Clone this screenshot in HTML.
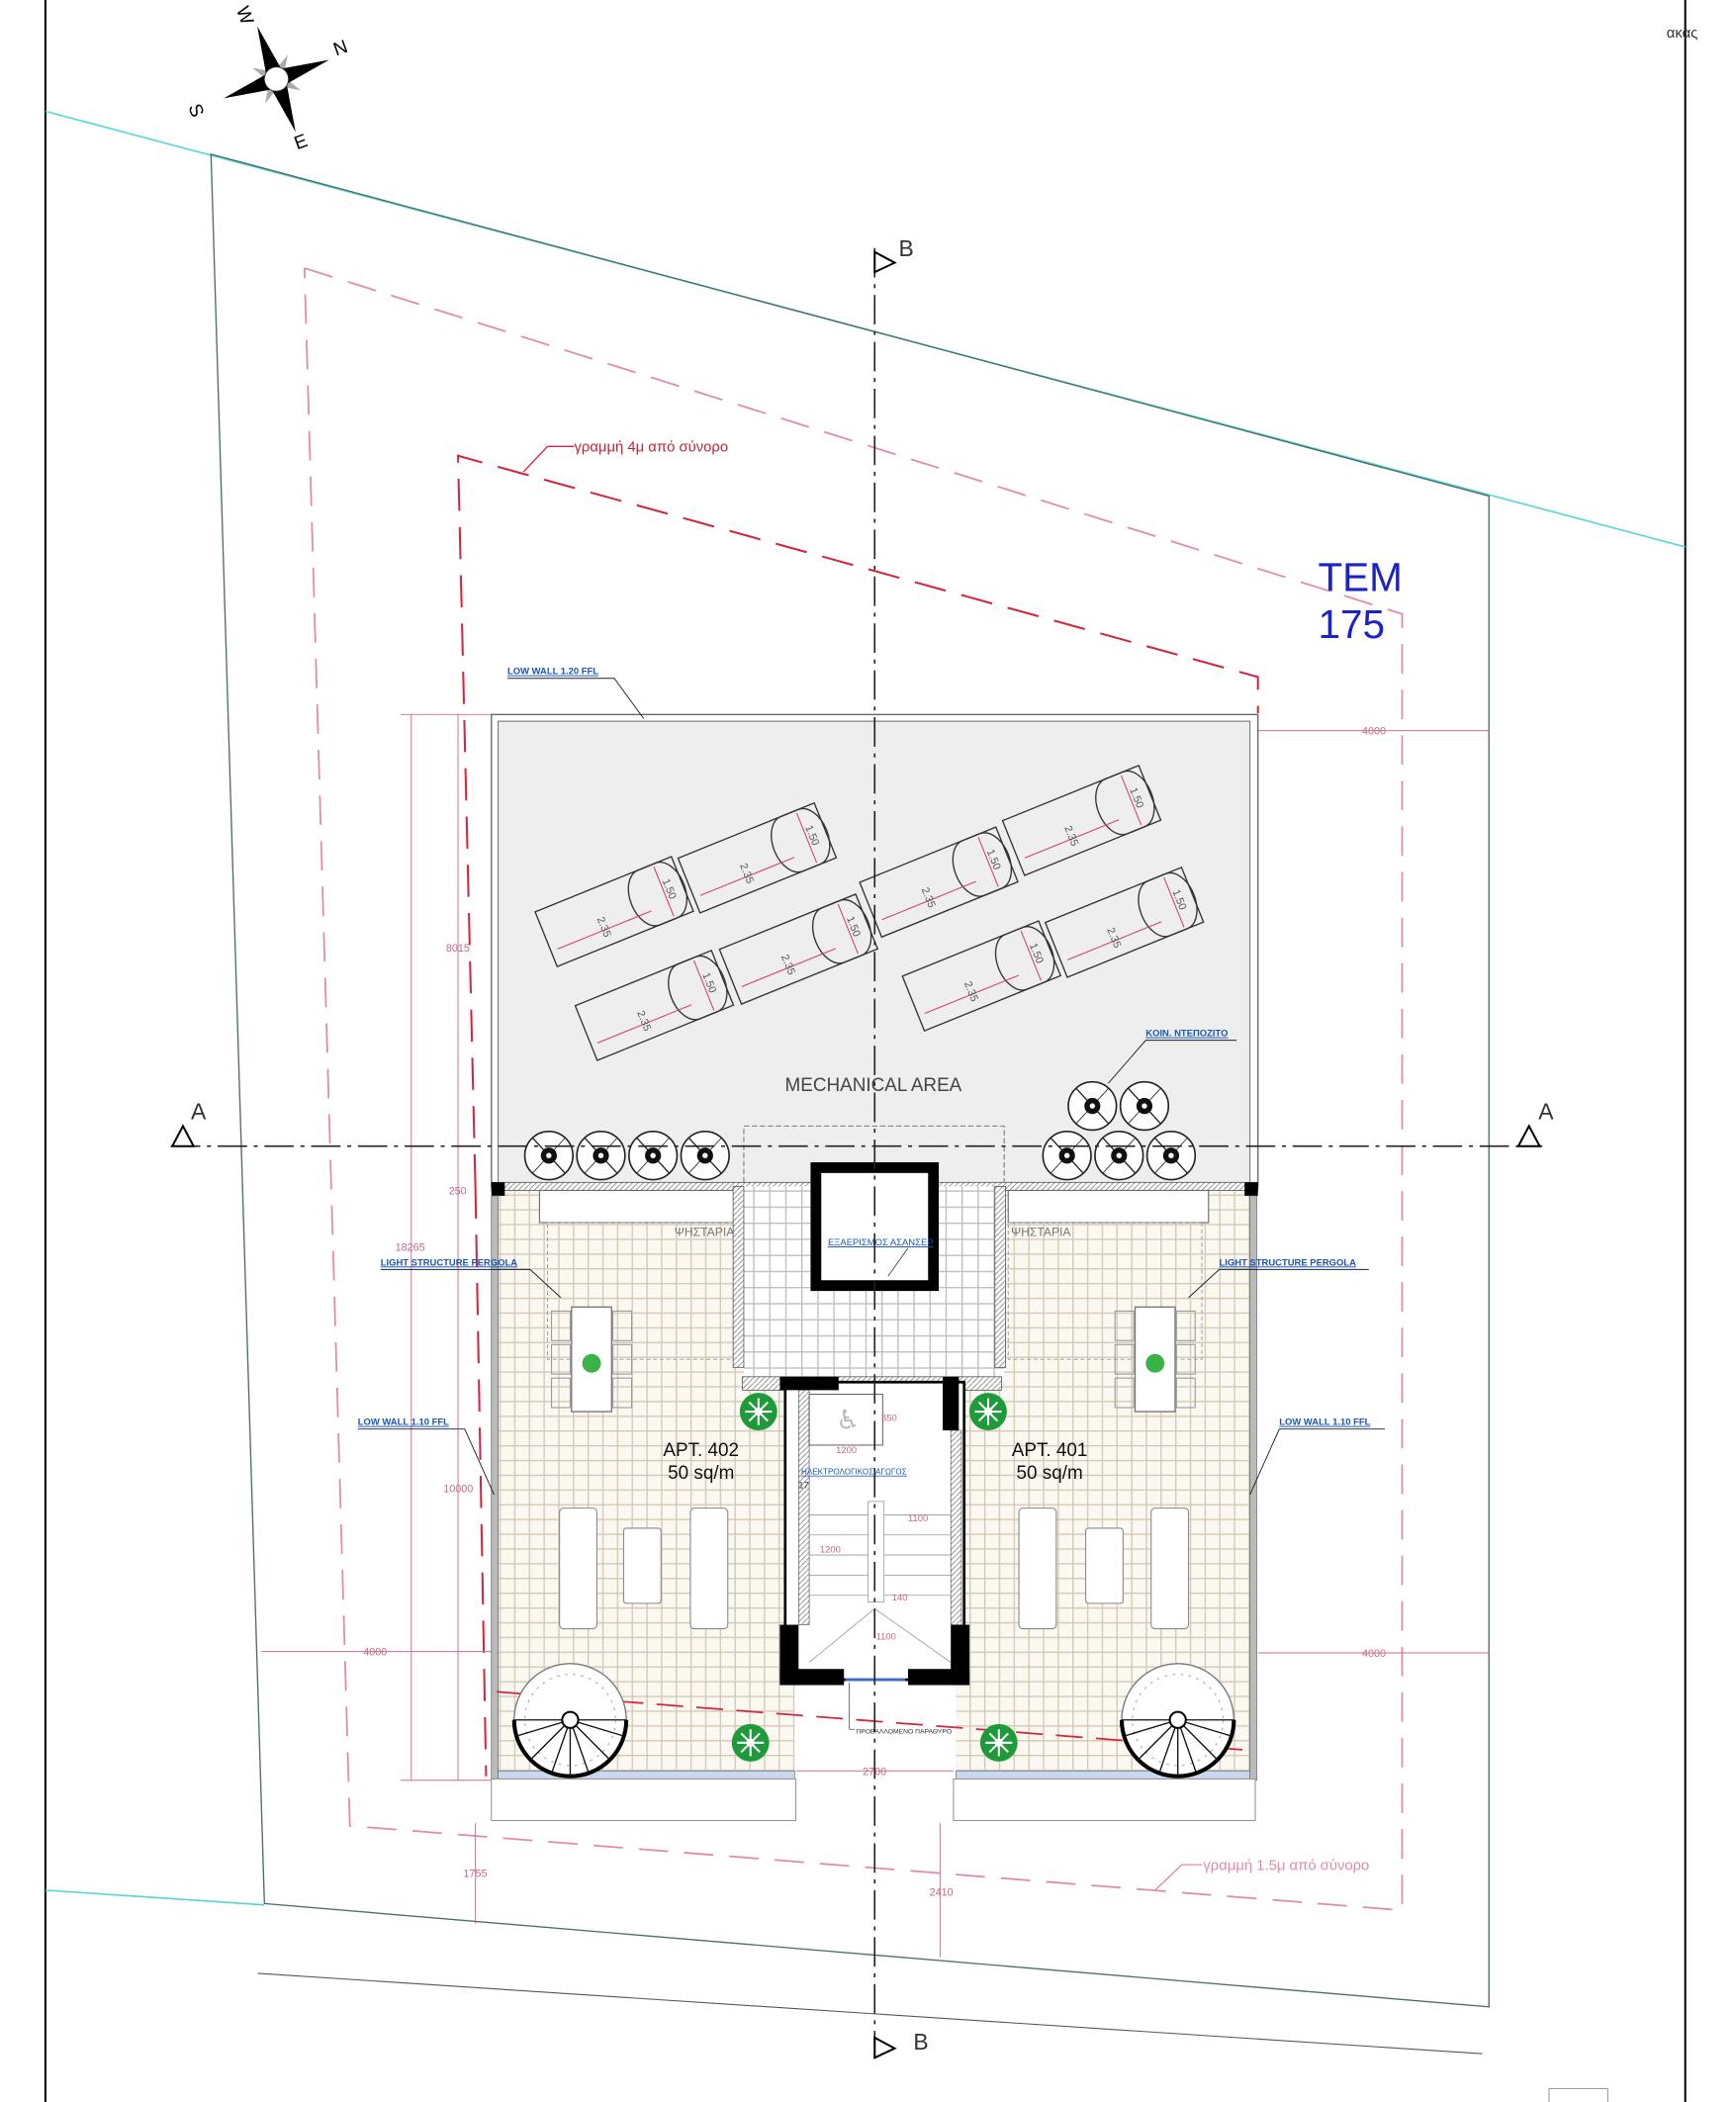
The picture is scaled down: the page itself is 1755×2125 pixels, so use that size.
<!DOCTYPE html>
<html><head><meta charset="utf-8"><style>
html,body{margin:0;padding:0;background:#fff;}
svg{display:block;}
text{font-family:"Liberation Sans","DejaVu Sans",sans-serif;}
</style></head><body>
<svg width="1755" height="2125" viewBox="0 0 1300 1568" preserveAspectRatio="none" xmlns="http://www.w3.org/2000/svg">
<defs>
<pattern id="tile" width="11" height="11" patternUnits="userSpaceOnUse">
<rect width="11" height="11" fill="#fbf8f1"/>
<path d="M0 0.5H11M0.5 0V11" stroke="#d3c8b6" stroke-width="1"/>
</pattern>
<pattern id="tile2" width="12" height="12" patternUnits="userSpaceOnUse">
<rect width="12" height="12" fill="#fff"/>
<path d="M0 0.5H12M0.5 0V12" stroke="#bdbdbd" stroke-width="1"/>
</pattern>
<pattern id="hatch" width="4" height="4" patternUnits="userSpaceOnUse">
<rect width="4" height="4" fill="#fff"/><path d="M0 4L4 0" stroke="#888" stroke-width="0.7"/>
</pattern>
<g id="bed">
<rect x="-55" y="-22" width="110" height="44" fill="none" stroke="#333" stroke-width="1"/>
<path d="M28 -22h14a14 22 0 0 1 0 44h-14a14 22 0 0 1 0-44z" fill="none" stroke="#333" stroke-width="1"/>
<line x1="-50" y1="10" x2="26" y2="10" stroke="#d0417a" stroke-width="0.8"/>
<line x1="40" y1="-20" x2="40" y2="20" stroke="#d0417a" stroke-width="0.8"/>
<text x="-10" y="4" font-size="8" fill="#555" transform="rotate(90 -10 0)">2.35</text>
<text x="42" y="-8" font-size="8" fill="#555" transform="rotate(90 42 -8)">1.50</text>
</g>
<g id="tank">
<circle r="18" fill="#fff" stroke="#222" stroke-width="1.2"/>
<line x1="-12" y1="-13" x2="12" y2="13" stroke="#222"/>
<line x1="-12" y1="13" x2="12" y2="-13" stroke="#222" stroke-width="0.6"/>
<circle r="6" fill="#111"/><circle r="2" fill="#fff"/>
</g>
<g id="plant">
<circle r="14" fill="#1f9a3a"/>
<path d="M0-10L0 10M-10 0L10 0M-7-7L7 7M-7 7L7-7" stroke="#fff" stroke-width="1.5"/>
<circle r="3" fill="#fff"/>
</g>
<g id="spiral">
<circle r="42" fill="#fff" stroke="#777" stroke-width="1"/>
<circle r="34" fill="none" stroke="#aaa" stroke-width="0.8" stroke-dasharray="2 4"/>
<path d="M-42 0A42 42 0 0 0 42 0" fill="none" stroke="#000" stroke-width="3"/>
<path d="M0 0L-40 12M0 0L-30 30M0 0L-14 40M0 0L0 42M0 0L14 40M0 0L30 30M0 0L40 12M0 0L42 0M0 0L-42 0" stroke="#111" stroke-width="1"/>
<circle r="6" fill="#fff" stroke="#000" stroke-width="1.5"/>
</g>
</defs>

<line x1="34" y1="0" x2="34" y2="1568" stroke="#000" stroke-width="1.5"/>
<line x1="1262" y1="0" x2="1262" y2="1568" stroke="#000" stroke-width="1.5"/>
<rect x="1160" y="1558" width="44" height="12" fill="none" stroke="#999" stroke-width="0.8"/>
<text x="1248" y="28" font-size="11" fill="#333">ακας</text>

<line x1="34" y1="83" x2="1262" y2="408" stroke="#55d6d6" stroke-width="1.2"/>
<line x1="34" y1="1410" x2="198" y2="1421" stroke="#55d6d6" stroke-width="1.2"/>
<polygon points="158,115 1115,370 1115,1497 198,1420" fill="none" stroke="#4a6f6c" stroke-width="1"/>
<line x1="193" y1="1472" x2="1110" y2="1532" stroke="#555" stroke-width="0.8"/>

<polyline points="228,200 1050,458 1050,1425 262,1362 228,200" fill="none" stroke="#e28aa6" stroke-width="1.3" stroke-dasharray="22 12"/>
<line x1="865" y1="1410" x2="885" y2="1391" stroke="#e28aa6"/>
<line x1="885" y1="1391" x2="900" y2="1391" stroke="#e28aa6"/>
<text x="901" y="1395" font-size="11" fill="#e28aa6">γραμμή 1.5μ από σύνορο</text>
<polyline points="356,885 343,340 942,505 942,532" fill="none" stroke="#d2253e" stroke-width="1.5" stroke-dasharray="24 12"/>
<line x1="356" y1="885" x2="364" y2="1325" stroke="#d2253e" stroke-width="1.5" stroke-dasharray="24 12"/>
<line x1="392" y1="352" x2="410" y2="333" stroke="#d2253e"/>
<line x1="410" y1="333" x2="430" y2="333" stroke="#d2253e"/>
<text x="430" y="337" font-size="11" fill="#c0243a">γραμμή 4μ από σύνορο</text>

<text x="987" y="441" font-size="30" fill="#1a23c8">ΤΕΜ</text>
<text x="987" y="476" font-size="30" fill="#1a23c8">175</text>

<g transform="translate(207,59) rotate(-20)">
<polygon points="0,-20 4,-4 0,0 -4,-4" fill="#aaa" transform="rotate(45)"/>
<polygon points="0,-20 4,-4 0,0 -4,-4" fill="#aaa" transform="rotate(135)"/>
<polygon points="0,-20 4,-4 0,0 -4,-4" fill="#aaa" transform="rotate(225)"/>
<polygon points="0,-20 4,-4 0,0 -4,-4" fill="#aaa" transform="rotate(315)"/>
<polygon points="0,-42 6,-6 0,0 -6,-6" fill="#000"/>
<polygon points="0,-42 6,-6 0,0 -6,-6" fill="#000" transform="rotate(90)"/>
<polygon points="0,-42 6,-6 0,0 -6,-6" fill="#000" transform="rotate(180)"/>
<polygon points="0,-42 6,-6 0,0 -6,-6" fill="#000" transform="rotate(270)"/>
<circle r="9" fill="#fff" stroke="#333" stroke-width="0.6"/>
</g>
<text x="176" y="16" font-size="14" fill="#000" transform="rotate(70 183 12)">W</text>
<text x="250" y="40" font-size="14" fill="#000" transform="rotate(-20 256 36)">N</text>
<text x="142" y="90" font-size="14" fill="#000" transform="rotate(70 149 84)">S</text>
<text x="220" y="110" font-size="14" fill="#000" transform="rotate(-20 226 104)">E</text>

<g stroke="#d06a90" stroke-width="0.7" fill="none">
<line x1="308" y1="533" x2="308" y2="1328"/>
<line x1="343" y1="533" x2="343" y2="1328"/>
<line x1="300" y1="533" x2="368" y2="533"/>
<line x1="300" y1="1328" x2="368" y2="1328"/>
<line x1="196" y1="1232" x2="368" y2="1232"/>
<line x1="942" y1="545" x2="1115" y2="545"/>
<line x1="942" y1="1233" x2="1115" y2="1233"/>
<line x1="356" y1="1360" x2="356" y2="1435"/>
<line x1="704" y1="1360" x2="704" y2="1460"/>
<line x1="596" y1="1321" x2="714" y2="1321"/>
</g>
<g font-size="8" fill="#c06a8a">
<text x="334" y="710">8015</text><text x="336" y="891">250</text><text x="296" y="933">18265</text>
<text x="332" y="1113">10000</text><text x="272" y="1235">4000</text><text x="1020" y="548">4000</text>
<text x="1020" y="1236">4000</text><text x="347" y="1400">1755</text><text x="696" y="1414">2410</text>
<text x="646" y="1324">2700</text>
</g>

<rect x="368" y="533" width="574" height="352" fill="#fff" stroke="#666" stroke-width="1"/>
<rect x="373" y="538" width="563" height="347" fill="#eeeeee" stroke="#777" stroke-width="0.8"/>
<rect x="557" y="840" width="195" height="45" fill="none" stroke="#777" stroke-width="0.8" stroke-dasharray="4 2"/>

<use href="#bed" transform="translate(460,680) rotate(-22)"/>
<use href="#bed" transform="translate(567,640) rotate(-22)"/>
<use href="#bed" transform="translate(490,750) rotate(-22)"/>
<use href="#bed" transform="translate(598,708) rotate(-22)"/>
<use href="#bed" transform="translate(703,658) rotate(-22)"/>
<use href="#bed" transform="translate(810,612) rotate(-22)"/>
<use href="#bed" transform="translate(735,728) rotate(-22)"/>
<use href="#bed" transform="translate(842,688) rotate(-22)"/>
<text x="654" y="814" font-size="14" fill="#444" text-anchor="middle">MECHANICAL AREA</text>

<use href="#tank" x="411" y="862"/><use href="#tank" x="450" y="862"/><use href="#tank" x="489" y="862"/><use href="#tank" x="528" y="862"/>
<use href="#tank" x="799" y="862"/><use href="#tank" x="838" y="862"/><use href="#tank" x="877" y="862"/>
<use href="#tank" x="818" y="825"/><use href="#tank" x="857" y="825"/>

<rect x="373" y="887" width="222" height="440" fill="url(#tile)"/>
<rect x="716" y="887" width="220" height="440" fill="url(#tile)"/>
<rect x="368" y="882" width="574" height="6" fill="url(#hatch)" stroke="#555" stroke-width="0.6"/>
<rect x="368" y="882" width="10" height="10" fill="#000"/>
<rect x="932" y="882" width="10" height="10" fill="#000"/>
<rect x="368" y="892" width="5" height="436" fill="#bbb" stroke="#555" stroke-width="0.5"/>
<rect x="936" y="892" width="5" height="436" fill="#bbb" stroke="#555" stroke-width="0.5"/>
<rect x="373" y="1321" width="222" height="6" fill="#c8d8ee" stroke="#666" stroke-width="0.5"/>
<rect x="716" y="1321" width="220" height="6" fill="#c8d8ee" stroke="#666" stroke-width="0.5"/>
<rect x="368" y="1327" width="228" height="31" fill="#fff" stroke="#888" stroke-width="0.7"/>
<rect x="714" y="1327" width="226" height="31" fill="#fff" stroke="#888" stroke-width="0.7"/>

<rect x="404" y="888" width="150" height="24" fill="#fff" stroke="#666" stroke-width="0.8"/>
<rect x="755" y="888" width="150" height="24" fill="#fff" stroke="#666" stroke-width="0.8"/>
<text x="505" y="922" font-size="9" fill="#777">ΨΗΣΤΑΡΙΑ</text>
<text x="757" y="922" font-size="9" fill="#777">ΨΗΣΤΑΡΙΑ</text>
<rect x="410" y="912" width="145" height="102" fill="none" stroke="#999" stroke-width="0.7" stroke-dasharray="3 2"/>
<rect x="755" y="912" width="145" height="102" fill="none" stroke="#999" stroke-width="0.7" stroke-dasharray="3 2"/>
<rect x="428" y="975" width="30" height="78" fill="#fff" stroke="#777"/>
<rect x="850" y="975" width="30" height="78" fill="#fff" stroke="#777"/>
<g fill="none" stroke="#999" stroke-width="0.8">
<rect x="413" y="978" width="14" height="22"/><rect x="413" y="1003" width="14" height="22"/><rect x="413" y="1028" width="14" height="22"/>
<rect x="459" y="978" width="14" height="22"/><rect x="459" y="1003" width="14" height="22"/><rect x="459" y="1028" width="14" height="22"/>
<rect x="835" y="978" width="14" height="22"/><rect x="835" y="1003" width="14" height="22"/><rect x="835" y="1028" width="14" height="22"/>
<rect x="881" y="978" width="14" height="22"/><rect x="881" y="1003" width="14" height="22"/><rect x="881" y="1028" width="14" height="22"/>
</g>
<circle cx="443" cy="1017" r="7" fill="#3ab34a"/><circle cx="865" cy="1017" r="7" fill="#3ab34a"/>

<g fill="#fff" stroke="#888" stroke-width="0.8">
<rect x="419" y="1125" width="28" height="90" rx="3"/><rect x="517" y="1125" width="28" height="90" rx="3"/>
<rect x="467" y="1140" width="28" height="56" rx="2"/>
<rect x="763" y="1125" width="28" height="90" rx="3"/><rect x="862" y="1125" width="28" height="90" rx="3"/>
<rect x="813" y="1140" width="28" height="56" rx="2"/>
</g>

<text x="525" y="1086" font-size="14" fill="#111" text-anchor="middle">APT. 402</text>
<text x="525" y="1103" font-size="14" fill="#111" text-anchor="middle">50 sq/m</text>
<text x="786" y="1086" font-size="14" fill="#111" text-anchor="middle">APT. 401</text>
<text x="786" y="1103" font-size="14" fill="#111" text-anchor="middle">50 sq/m</text>

<line x1="372" y1="1262" x2="940" y2="1306" stroke="#d2253e" stroke-width="1.3" stroke-dasharray="20 10"/>

<use href="#spiral" x="427" y="1283"/>
<use href="#spiral" x="882" y="1283"/>
<use href="#plant" x="568" y="1053"/><use href="#plant" x="740" y="1053"/>
<use href="#plant" x="562" y="1300"/><use href="#plant" x="748" y="1300"/>

<rect x="557" y="885" width="195" height="143" fill="url(#tile2)"/>
<rect x="549" y="885" width="8" height="135" fill="url(#hatch)" stroke="#555" stroke-width="0.6"/>
<rect x="745" y="885" width="8" height="135" fill="url(#hatch)" stroke="#555" stroke-width="0.6"/>
<rect x="556" y="1027" width="194" height="10" fill="url(#hatch)" stroke="#555" stroke-width="0.6"/>
<rect x="611" y="871" width="88" height="88" fill="#fff" stroke="#000" stroke-width="8"/>
<text x="620" y="929" font-size="7" fill="#1a56b5" text-decoration="underline">ΕΞΑΕΡΙΣΜΟΣ ΑΣΑΝΣΕΡ</text>
<line x1="680" y1="931" x2="665" y2="952" stroke="#333" stroke-width="0.6"/>
<rect x="588" y="1031" width="134" height="222" fill="#fff" stroke="#000" stroke-width="2"/>
<rect x="584" y="1027" width="44" height="10" fill="#000"/>
<rect x="706" y="1027" width="12" height="40" fill="#000"/>
<rect x="584" y="1212" width="14" height="45" fill="#000"/>
<rect x="712" y="1212" width="14" height="45" fill="#000"/>
<rect x="584" y="1245" width="48" height="12" fill="#000"/>
<rect x="680" y="1245" width="46" height="12" fill="#000"/>
<rect x="598" y="1037" width="8" height="175" fill="url(#hatch)" stroke="#555" stroke-width="0.5"/>
<rect x="712" y="1067" width="8" height="145" fill="url(#hatch)" stroke="#555" stroke-width="0.5"/>
<rect x="606" y="1040" width="55" height="38" fill="#fff" stroke="#555" stroke-width="0.7"/>
<text x="626" y="1066" font-size="20" fill="#bbb">♿</text>
<g stroke="#999" stroke-width="0.6" fill="none">
<path d="M606 1130H650M606 1145H650M606 1160H650M606 1175H650M606 1190H650"/>
<path d="M662 1130H712M662 1145H712M662 1160H712M662 1175H712M662 1190H712"/>
<rect x="650" y="1120" width="12" height="75"/>
<path d="M606 1240L655 1200L712 1240"/>
</g>
<text x="600" y="1100" font-size="6" fill="#1a56b5" text-decoration="underline">ΗΛΕΚΤΡΟΛΟΓΙΚΟΣ ΑΓΩΓΟΣ</text>
<text x="598" y="1110" font-size="7" fill="#444">17</text>
<g font-size="7" fill="#c06a8a"><text x="626" y="1084">1200</text><text x="660" y="1060">850</text><text x="680" y="1135">1100</text><text x="614" y="1158">1200</text><text x="668" y="1194">140</text><text x="656" y="1223">1100</text></g>
<line x1="633" y1="1253" x2="678" y2="1253" stroke="#3a6fc8" stroke-width="2"/>
<line x1="636" y1="1255" x2="636" y2="1290" stroke="#333" stroke-width="0.5"/>
<line x1="636" y1="1290" x2="640" y2="1290" stroke="#333" stroke-width="0.5"/>
<text x="641" y="1293" font-size="5" fill="#333">ΠΡΟΒΑΛΛΟΜΕΝΟ ΠΑΡΑΘΥΡΟ</text>

<g font-size="7" fill="#1a56b5" text-decoration="underline" font-weight="bold">
<text x="380" y="503">LOW WALL 1.20 FFL</text>
<text x="858" y="773">KOIN. ΝΤΕΠΟΖΙΤΟ</text>
<text x="285" y="944">LIGHT STRUCTURE PERGOLA</text>
<text x="913" y="944">LIGHT STRUCTURE PERGOLA</text>
<text x="268" y="1063">LOW WALL 1.10 FFL</text>
<text x="958" y="1063">LOW WALL 1.10 FFL</text>
</g>
<g stroke="#222" stroke-width="0.7" fill="none">
<path d="M380 506H460L482 536"/>
<path d="M926 776H858L830 808"/>
<path d="M285 947H397L420 968"/>
<path d="M1025 947H913L890 968"/>
<path d="M268 1066H348L370 1115"/>
<path d="M1037 1066H958L936 1115"/>
</g>

<line x1="655" y1="185" x2="655" y2="1535" stroke="#222" stroke-width="1.2" stroke-dasharray="22 5 3 5"/>
<line x1="128" y1="855" x2="1155" y2="855" stroke="#222" stroke-width="1.2" stroke-dasharray="22 5 3 5"/>
<polygon points="655,188 670,196 655,203" fill="#fff" stroke="#000" stroke-width="1.5"/>
<polygon points="655,1520 670,1528 655,1535" fill="#fff" stroke="#000" stroke-width="1.5"/>
<polygon points="129,855 137,840 145,855" fill="#fff" stroke="#000" stroke-width="1.5"/>
<polygon points="1137,855 1145,840 1153,855" fill="#fff" stroke="#000" stroke-width="1.5"/>
<text x="673" y="191" font-size="17" fill="#333">B</text>
<text x="684" y="1529" font-size="17" fill="#333">B</text>
<text x="143" y="835" font-size="17" fill="#333">A</text>
<text x="1152" y="835" font-size="17" fill="#333">A</text>
</svg>
</body></html>
